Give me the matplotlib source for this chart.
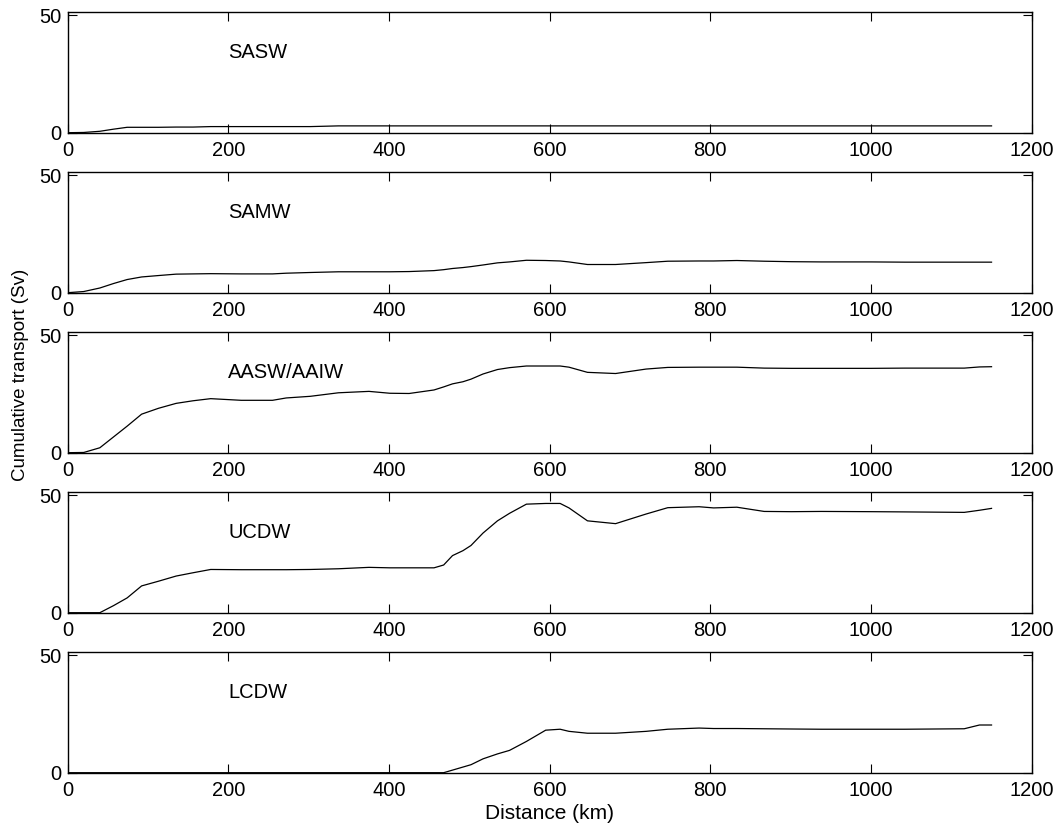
#!/usr/bin/env python3

import matplotlib
matplotlib.use('Agg')
import matplotlib.pyplot as plt

plt.rcParams['font.family'] = ['Liberation Sans', 'DejaVu Sans']

# === DATA ===
distance_km = [0, 20, 40, 57, 74, 92, 113, 135, 156, 178, 216, 255, 272, 302,
               337, 375, 401, 425, 456, 468, 479, 492, 502, 517, 535, 550,
               571, 595, 613, 624, 647, 682, 720, 747, 786, 804, 833, 867,
               901, 938, 1000, 1042, 1116, 1135, 1150]

sasw = [0, 0.1, 0.6, 1.5, 2.3, 2.3, 2.3, 2.4, 2.4, 2.6, 2.6, 2.6, 2.6, 2.6,
        2.9, 2.9, 2.9, 2.9, 2.9, 2.9, 2.9, 2.9, 2.9, 2.9, 2.9, 2.9,
        2.9, 2.9, 2.9, 2.9, 2.9, 2.9, 2.9, 2.9, 2.9, 2.9, 2.9, 2.9,
        2.9, 2.9, 2.9, 2.9, 2.9, 2.9, 2.9]

samw = [0, 0.5, 2.0, 3.9, 5.6, 6.7, 7.3, 7.9, 8.0, 8.1, 8.0, 8.0, 8.3, 8.6,
        8.9, 8.9, 8.9, 9.0, 9.4, 9.8, 10.3, 10.7, 11.1, 11.8, 12.7, 13.1,
        13.8, 13.7, 13.5, 13.1, 12.0, 12.0, 12.8, 13.4, 13.5, 13.5, 13.7, 13.4,
        13.2, 13.1, 13.1, 13.0, 13.0, 13.0, 13.0]

aasw_aaiw = [0, 0.1, 2.1, 6.7, 11.3, 16.4, 18.9, 21.0, 22.1, 23.0, 22.3, 22.3, 23.3, 24.0,
             25.5, 26.1, 25.3, 25.2, 26.7, 28.0, 29.3, 30.2, 31.3, 33.5, 35.4, 36.2,
             36.9, 36.9, 36.9, 36.4, 34.2, 33.7, 35.6, 36.3, 36.4, 36.4, 36.4, 36.0,
             35.9, 35.9, 35.9, 36.0, 36.0, 36.5, 36.6]

ucdw = [0, 0, 0, 3.0, 6.3, 11.4, 13.4, 15.6, 17.0, 18.4, 18.3, 18.3, 18.3, 18.4,
        18.7, 19.3, 19.1, 19.1, 19.1, 20.3, 24.3, 26.4, 28.6, 33.9, 39.1, 42.3,
        46.2, 46.5, 46.5, 44.6, 39.1, 37.9, 42.0, 44.7, 45.1, 44.6, 44.9, 43.1,
        43.0, 43.1, 43.0, 42.9, 42.7, 43.6, 44.4]

lcdw = [0, 0, 0, 0, 0, 0, 0, 0, 0, 0, 0, 0, 0, 0,
        0, 0, 0, 0, 0, 0, 1.1, 2.4, 3.4, 5.9, 8.0, 9.5,
        13.3, 18.1, 18.5, 17.6, 16.8, 16.8, 17.6, 18.5, 19.0, 18.8, 18.8, 18.7,
        18.6, 18.5, 18.5, 18.5, 18.7, 20.3, 20.3]

water_masses = ['SASW', 'SAMW', 'AASW/AAIW', 'UCDW', 'LCDW']
series = [sasw, samw, aasw_aaiw, ucdw, lcdw]

x_ticks = [0, 200, 400, 600, 800, 1000, 1200]
y_ticks = [0, 50]

# === LAYOUT ===
W, H = 1063, 834
left_px, right_px = 67.7, 1031.7
top0_px, panel_h_px, step_px = 11.7, 121, 160
tick_fs = 14.5
xlabel_fs = 15
ylabel_fs = 13.5

fig = plt.figure(figsize=(W / 100, H / 100), dpi=100)

axes = []
for i, (name, vals) in enumerate(zip(water_masses, series)):
    top_px = top0_px + step_px * i
    bottom = 1 - (top_px + panel_h_px) / H
    ax = fig.add_axes([left_px / W, bottom, (right_px - left_px) / W, panel_h_px / H])
    ax.plot(distance_km, vals, color='black', linewidth=0.9)
    ax.set_xlim(0, 1200)
    ax.set_ylim(0, 51.5)
    ax.set_xticks(x_ticks)
    ax.set_yticks(y_ticks)
    ax.tick_params(direction='in', top=True, right=True, length=6.5, width=0.8,
                   labelsize=tick_fs)
    ax.tick_params(axis='x', pad=6)
    ax.tick_params(axis='y', pad=4.5)
    for sp in ax.spines.values():
        sp.set_linewidth(1.0)
    ax.text(200, 34, name, fontsize=tick_fs, va='center', ha='left')
    axes.append(ax)

axes[-1].set_xlabel('Distance (km)', fontsize=xlabel_fs, labelpad=3)
fig.text(21 / W, 1 - 375 / H, 'Cumulative transport (Sv)', rotation=90,
         ha='center', va='center', fontsize=ylabel_fs)

fig.savefig('out.png', dpi=100)
